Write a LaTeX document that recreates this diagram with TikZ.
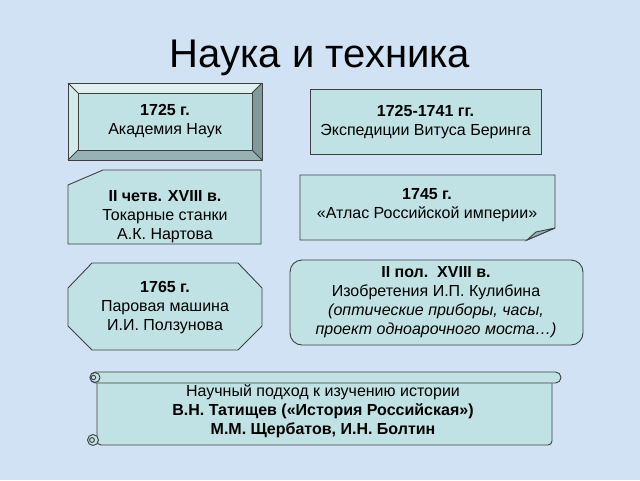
\documentclass[tikz,border=0pt]{standalone}
\usepackage{fontspec}
\setmainfont{Liberation Sans}
\definecolor{bg}{RGB}{208,226,244}
\definecolor{boxfill}{RGB}{192,226,228}
\definecolor{edge}{RGB}{64,64,64}
\definecolor{bevT}{RGB}{222,240,240}
\definecolor{bevL}{RGB}{210,234,234}
\definecolor{bevB}{RGB}{150,178,178}
\definecolor{bevR}{RGB}{128,154,154}
\definecolor{foldc}{RGB}{150,180,182}
\begin{document}
\begin{tikzpicture}[x=1pt,y=-1pt,
  shapebox/.style={fill=boxfill,draw=edge,line width=0.9pt},
  edgeline/.style={draw=edge,line width=0.9pt},
  txt/.style={align=center,inner sep=0pt,font=\fontsize{16}{19}\selectfont}]
\fill[bg] (0,0) rectangle (640,480);
\useasboundingbox (0,0) rectangle (640,480);

% title
\node[inner sep=0pt] (title) at (320,58) {\fontsize{40}{48}\selectfont Наука и техника};

% bevel box
\fill[bevT] (68,83)--(262,83)--(252,93)--(78,93)--cycle;
\fill[bevL] (68,83)--(78,93)--(78,150)--(68,160)--cycle;
\fill[bevB] (68,160)--(78,150)--(252,150)--(262,160)--cycle;
\fill[bevR] (262,83)--(262,160)--(252,150)--(252,93)--cycle;
\fill[boxfill] (78,93) rectangle (252,150);
\draw[edgeline] (68,83) rectangle (262,160);
\draw[edgeline] (78,93) rectangle (252,150);
\draw[edgeline] (68,83)--(78,93) (262,83)--(252,93) (68,160)--(78,150) (262,160)--(252,150);
\node[txt] (b1) at (165,121.5) {\textbf{1725 г.}\\Академия Наук};

% plain box
\draw[shapebox] (310,89) rectangle (541,154);
\node[txt] (b2) at (425.5,122) {\textbf{1725-1741 гг.}\\Экспедиции Витуса Беринга};

% snipped box
\draw[shapebox] (103,170)--(261,170)--(261,244)--(68,244)--(68,185)--cycle;
\node[txt] (b3) at (165,216.5) {\textbf{II четв. XVIII в.}\\Токарные станки\\А.К. Нартова};

% folded corner box
\draw[shapebox] (300,175)--(555,175)--(555,228)--(527,240)--(300,240)--cycle;
\filldraw[fill=foldc,draw=edge,line width=0.9pt] (527,240)--(536,232)--(555,228)--cycle;
\node[txt] (b4) at (427,205) {\textbf{1745 г.}\\«Атлас Российской империи»};

% octagon
\draw[shapebox] (92,263)--(238,263)--(262,288)--(262,326)--(238,350)--(92,350)--(68,326)--(68,288)--cycle;
\node[txt] (b5) at (165,308) {\textbf{1765 г.}\\Паровая машина\\И.И. Ползунова};

% rounded box
\draw[shapebox,rounded corners=12pt] (290,260) rectangle (583,345);
\node[txt] (b6) at (436,302.5) {\textbf{II пол.\ \ XVIII в.}\\Изобретения И.П. Кулибина\\\textit{(оптические приборы, часы,}\\\textit{проект одноарочного моста…)}};

% scroll
\fill[boxfill] (97,380) rectangle (552,445);
\draw[edgeline,rounded corners=4pt] (97,380)--(97,445)--(552,445)--(552,380);
\draw[shapebox,rounded corners=5.5pt] (90,372) rectangle (561,383);
\draw[edgeline,fill=boxfill] (95,377.5) circle (5);
\draw[edgeline] (93.5,377.5) circle (2.2);
\draw[edgeline,fill=boxfill] (93,440) circle (5.5);
\draw[edgeline] (92,440) circle (2.4);
\node[txt] (b7) at (323,411) {Научный подход к изучению истории\\\textbf{В.Н. Татищев («История Российская»)}\\\textbf{М.М. Щербатов, И.Н. Болтин}};
\end{tikzpicture}
\end{document}
